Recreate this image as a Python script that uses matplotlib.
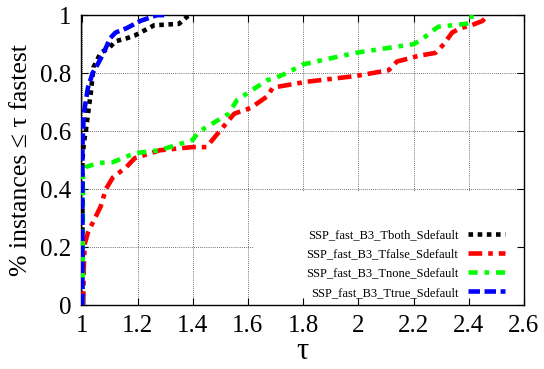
import matplotlib
matplotlib.use("Agg")
import matplotlib.pyplot as plt
from matplotlib.patches import Polygon

# ---- data ----
labels = ["SSP_fast_B3_Tboth_Sdefault", "SSP_fast_B3_Tfalse_Sdefault",
          "SSP_fast_B3_Tnone_Sdefault", "SSP_fast_B3_Ttrue_Sdefault"]

tboth_x = [1.0, 1.0, 1.005, 1.012, 1.03, 1.04, 1.066, 1.10, 1.12, 1.16, 1.19, 1.26, 1.35, 1.38, 1.39]
tboth_y = [0.0, 0.50, 0.56, 0.60, 0.73, 0.82, 0.87, 0.89, 0.91, 0.92, 0.93, 0.965, 0.97, 0.995, 1.0]

tfalse_x = [1.003, 1.005, 1.008, 1.02, 1.03, 1.066, 1.085, 1.11, 1.16, 1.19, 1.28, 1.40, 1.45, 1.48,
            1.55, 1.61, 1.67, 1.69, 1.81, 1.99, 2.11, 2.14, 2.22, 2.28, 2.31, 2.34, 2.37, 2.41, 2.45, 2.47]
tfalse_y = [0.0, 0.13, 0.21, 0.25, 0.27, 0.34, 0.40, 0.44, 0.477, 0.507, 0.534, 0.545, 0.545, 0.58,
            0.66, 0.68, 0.72, 0.75, 0.77, 0.79, 0.81, 0.84, 0.86, 0.87, 0.90, 0.94, 0.955, 0.965, 0.98, 1.0]

tnone_x = [1.001, 1.002, 1.012, 1.055, 1.11, 1.19, 1.28, 1.40, 1.42, 1.53, 1.56, 1.67, 1.69, 1.74,
           1.80, 1.87, 1.99, 2.20, 2.23, 2.26, 2.29, 2.39, 2.41, 2.41]
tnone_y = [0.0, 0.45, 0.476, 0.49, 0.493, 0.524, 0.534, 0.57, 0.597, 0.66, 0.707, 0.776, 0.78, 0.80,
           0.83, 0.845, 0.87, 0.90, 0.915, 0.94, 0.96, 0.97, 0.975, 1.0]

ttrue_x = [1.0, 1.0, 1.005, 1.02, 1.037, 1.055, 1.077, 1.10, 1.12, 1.16, 1.21, 1.27, 1.31]
ttrue_y = [0.0, 0.55, 0.66, 0.75, 0.80, 0.83, 0.87, 0.92, 0.94, 0.955, 0.98, 1.0, 1.0]

xticks = [1, 1.2, 1.4, 1.6, 1.8, 2, 2.2, 2.4, 2.6]
xtick_labels = ["1", "1.2", "1.4", "1.6", "1.8", "2", "2.2", "2.4", "2.6"]
yticks = [0, 0.2, 0.4, 0.6, 0.8, 1]
ytick_labels = ["0", "0.2", "0.4", "0.6", "0.8", "1"]

plt.rcParams['font.family'] = ['Liberation Serif', 'DejaVu Serif']

fig = plt.figure(figsize=(5.44, 3.69), dpi=100)
ax = fig.add_axes([0.149, 0.173, 0.814, 0.786])

series = [
    (tboth_x, tboth_y, "black", (0, (1, 1))),
    (tfalse_x, tfalse_y, "#ff0000", (0, (3, 1.3, 1, 1.3))),
    (tnone_x, tnone_y, "#00ff00", (0, (2, 1.5, 1, 1.5))),
    (ttrue_x, ttrue_y, "#0000ff", (0, (2.5, 1))),
]
for (xs, ys, c, ls), lab in zip(series, labels):
    ax.plot(xs, ys, color=c, lw=3.3, linestyle=ls, label=lab,
            dash_capstyle='butt', solid_joinstyle='miter', zorder=3)

ax.set_xlim(0.995, 2.6)
ax.set_ylim(0, 1)
ax.set_xticks(xticks)
ax.set_xticklabels(xtick_labels)
ax.set_yticks(yticks)
ax.set_yticklabels(ytick_labels)
ax.tick_params(direction='in', top=True, right=True, length=5, width=0.8,
               labelsize=18, pad=7)
for s in ax.spines.values():
    s.set_linewidth(1.0)

ax.set_axisbelow(True)
ax.grid(True, linestyle=(0, (1, 1.5)), color='#444444', linewidth=0.6)

# legend area blanks the grid (gnuplot key box)
clip = Polygon([(0, 0), (0.39, 0), (0.39, 0.395), (1, 0.395), (1, 1), (0, 1)],
               closed=True, transform=ax.transAxes, facecolor='none', edgecolor='none')
ax.add_patch(clip)
for gl in ax.get_xgridlines() + ax.get_ygridlines():
    gl.set_clip_path(clip)

ax.set_xlabel("τ", fontsize=22, labelpad=0)
ax.set_ylabel("% instances ≤ τ fastest", fontsize=18.5, labelpad=6)

leg = ax.legend(loc='lower right', bbox_to_anchor=(0.968, 0.005), frameon=False,
                markerfirst=False, fontsize=9, handlelength=2.9,
                labelspacing=0.58, handletextpad=0.8, borderaxespad=0)

fig.savefig("out.png", dpi=100)
